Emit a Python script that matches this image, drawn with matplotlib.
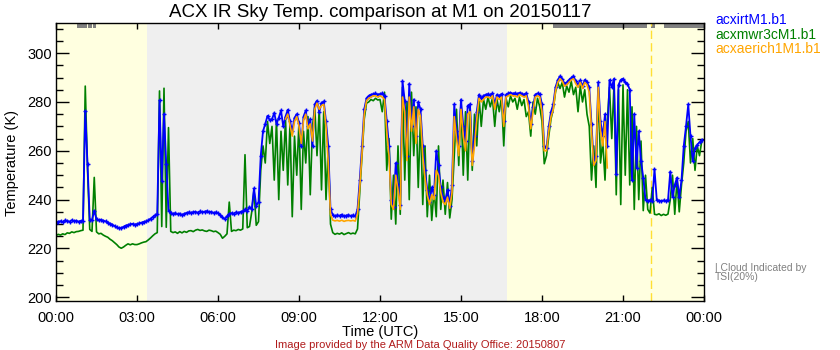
import numpy as np
import matplotlib
matplotlib.use("Agg")
import matplotlib.pyplot as plt
from matplotlib.ticker import MultipleLocator, FuncFormatter

plt.rcParams['font.family'] = ['Liberation Sans', 'DejaVu Sans']

# ---- data: sky brightness temperature (K), one sample every 5 minutes ----
STEP_H = 5.0 / 60.0

# acxirtM1.b1 (IR thermometer), 00:00 .. 23:55
irt_K = [
    230.6, 231.0, 231.2, 230.8, 231.5, 231.3, 231.0, 231.6, 231.2, 231.4, 231.0, 231.3,
    231.2, 276.3, 254.7, 231.8, 231.6, 235.5, 231.9, 231.5, 231.8, 231.4, 231.1, 230.6,
    230.2, 229.8, 229.2, 228.6, 228.3, 228.4, 228.9, 229.4, 229.6, 229.9, 230.1, 229.8,
    230.0, 230.3, 230.6, 230.9, 231.1, 231.5, 232.2, 232.9, 233.6, 234.0, 280.7, 247.8,
    275.0, 254.7, 235.5, 234.6, 234.2, 234.5, 234.0, 234.3, 233.7, 234.2, 234.6, 234.8,
    234.6, 234.9, 235.0, 234.7, 235.2, 234.8, 235.1, 235.3, 234.9, 235.0, 234.6, 234.8,
    234.5, 233.8, 232.8, 232.0, 233.2, 234.2, 234.5, 234.3, 234.8, 234.6, 235.0, 235.2,
    236.0, 235.4, 237.0, 236.0, 244.6, 237.5, 239.0, 258.0, 268.0, 271.0, 274.3, 272.5,
    273.0, 275.5, 271.0, 273.5, 276.5, 270.0, 274.0, 276.8, 272.0, 268.0, 273.5, 275.0,
    271.5, 262.0, 274.0, 276.5, 270.0, 273.0, 262.0, 279.0, 280.5, 276.0, 279.5, 280.2,
    272.0, 262.0, 236.0, 233.8, 233.2, 233.6, 233.4, 233.9, 233.1, 233.5, 233.7, 233.3,
    233.6, 233.2, 236.0, 248.0, 262.0, 277.0, 281.5, 282.5, 283.0, 283.2, 283.5, 283.0,
    283.2, 283.5, 282.5, 272.0, 262.0, 240.0, 237.0, 255.0, 246.0, 238.0, 288.5, 280.5,
    258.0, 287.5, 270.0, 281.0, 266.0, 280.0, 277.0, 262.0, 252.0, 244.0, 239.0, 245.0,
    242.0, 260.0, 254.0, 245.0, 241.0, 239.5, 244.0, 237.5, 246.0, 279.0, 268.0, 262.0,
    281.0, 270.0, 264.0, 278.5, 279.0, 256.0, 266.0, 276.0, 283.0, 281.5, 282.5, 283.0,
    283.2, 282.8, 283.5, 279.0, 283.0, 282.5, 283.3, 272.0, 283.0, 283.5, 283.8, 283.4,
    283.6, 283.2, 283.8, 283.4, 283.0, 283.6, 280.0, 271.0, 278.0, 283.0, 283.5, 283.2,
    279.0, 262.0, 261.0, 270.0, 276.0, 279.0, 286.0, 289.0, 290.5, 289.5, 287.5, 288.0,
    289.0, 289.8, 290.6, 288.5, 287.0, 288.8, 286.5, 289.0, 288.0, 286.0, 271.0, 255.0,
    258.0, 288.0, 272.0, 266.0, 275.0, 262.0, 289.0, 286.0, 289.5, 250.5, 287.0, 289.0,
    289.5, 288.0, 287.5, 285.0, 248.0, 275.0, 253.0, 268.0, 256.0, 249.0, 240.0, 239.5,
    239.8, 239.5, 252.5, 240.0, 239.6, 239.4, 239.7, 239.5, 239.8, 251.5, 241.0, 246.0,
    249.0, 241.0, 248.0, 262.0, 270.0, 279.0, 266.0, 256.0, 261.0, 262.5, 263.5, 264.5,
]

# acxmwr3cM1.b1 (microwave radiometer IR channel), 00:00 .. 23:55
mwr_K = [
    225.3, 225.8, 225.5, 226.0, 225.7, 226.4, 226.2, 226.8, 226.5, 226.9, 227.0, 227.3,
    227.5, 286.5, 252.6, 227.8, 227.0, 249.1, 226.8, 226.0, 226.2, 225.5, 225.0, 224.6,
    223.8, 223.2, 222.4, 221.6, 220.6, 220.1, 220.6, 221.3, 221.9, 221.5, 221.9, 221.6,
    221.6, 221.9, 222.3, 222.6, 222.8, 223.5, 224.3, 225.2, 226.0, 226.5, 284.5, 229.0,
    285.6, 228.7, 269.5, 227.0, 226.5, 226.8, 226.2, 226.9, 226.4, 227.0, 226.6, 227.2,
    227.3, 226.9, 227.5, 227.8, 227.4, 227.6, 227.2, 227.0, 227.5, 227.3, 226.9, 227.1,
    226.5, 225.8, 224.2, 225.0, 226.0, 239.0, 227.0, 227.5, 227.3, 227.8, 227.5, 228.0,
    258.4, 228.5, 229.0, 235.0, 244.0, 229.5, 231.0, 252.0, 262.0, 255.0, 272.0, 263.0,
    270.0, 248.0, 272.5, 240.0, 268.0, 252.0, 273.0, 246.0, 271.0, 233.0, 266.0, 250.0,
    272.0, 236.0, 268.0, 255.0, 274.0, 242.0, 270.0, 278.0, 258.0, 277.5, 244.0, 276.0,
    240.0, 262.0, 230.0, 226.5, 225.8, 226.2, 225.9, 226.4, 225.7, 226.1, 226.5, 226.0,
    226.3, 226.0, 228.0, 243.0, 258.0, 273.0, 279.5, 280.0, 281.0, 280.5, 281.5, 280.8,
    281.0, 276.0, 284.0, 252.0, 265.0, 232.0, 250.0, 230.0, 262.0, 234.0, 286.0, 248.0,
    280.0, 240.0, 284.0, 258.0, 278.0, 245.0, 274.0, 238.0, 262.0, 233.0, 250.0, 231.5,
    244.0, 233.0, 262.0, 236.0, 248.0, 234.0, 247.0, 232.5, 240.0, 258.0, 277.0, 254.0,
    280.0, 250.0, 276.0, 248.0, 279.0, 252.0, 275.0, 262.0, 282.0, 270.0, 281.0, 277.0,
    282.0, 278.0, 281.5, 270.0, 281.0, 276.0, 282.0, 262.0, 281.5, 278.0, 282.5, 280.0,
    281.5, 277.0, 282.0, 278.5, 281.0, 274.0, 276.0, 266.0, 280.0, 275.0, 281.5, 278.0,
    272.0, 254.7, 258.0, 266.0, 273.0, 277.0, 284.0, 288.0, 285.5, 288.0, 282.0, 286.5,
    284.0, 288.5, 283.0, 286.0, 276.0, 286.5, 280.0, 285.0, 275.0, 270.0, 248.0, 262.0,
    245.0, 286.0, 255.0, 264.0, 248.0, 272.0, 286.0, 265.0, 287.0, 242.0, 285.0, 238.0,
    287.0, 250.0, 285.0, 246.0, 278.0, 236.0, 270.0, 240.0, 264.0, 235.5, 250.0, 236.0,
    234.5, 245.0, 234.0, 233.8, 234.2, 233.5, 234.0, 233.6, 234.1, 240.0, 250.0, 234.0,
    248.0, 235.0, 246.0, 255.0, 268.0, 272.0, 255.0, 265.0, 252.0, 262.0, 258.0, 264.0,
]

# acxaerich1M1.b1 (AERI channel 1), 08:30 .. 20:25
AERI_START_H = 8.5
aeri_K = [
    273.0, 275.0, 270.5, 266.0, 272.0, 274.0,
    270.0, 263.0, 272.5, 275.0, 269.0, 271.0, 264.0, 277.0, 279.5, 277.0, 278.5, 279.0,
    270.0, 255.0, 234.0, 231.6, 231.3, 231.5, 231.2, 231.6, 231.1, 231.4, 231.5, 231.3,
    231.5, 231.2, 234.0, 245.0, 259.0, 275.0, 280.5, 281.5, 282.0, 282.5, 282.5, 282.0,
    282.5, 282.0, 281.0, 268.0, 258.0, 238.0, 236.0, 250.0, 244.0, 236.0, 282.0, 276.0,
    256.0, 282.0, 268.0, 278.0, 263.0, 277.0, 274.0, 258.0, 249.0, 242.0, 238.0, 242.0,
    240.0, 252.0, 250.0, 243.0, 239.0, 238.0, 241.0, 236.5, 243.0, 274.0, 265.0, 258.0,
    277.0, 266.0, 260.0, 275.0, 276.0, 254.0, 262.0, 273.0, 281.5, 280.0, 281.0, 282.0,
    282.0, 281.5, 282.5, 277.0, 282.0, 281.0, 282.0, 270.0, 282.0, 282.5, 283.0, 282.5,
    282.5, 282.0, 283.0, 282.5, 282.0, 282.5, 278.0, 269.0, 276.0, 282.0, 282.5, 282.0,
    276.0, 260.0, 260.0, 268.0, 274.0, 277.0, 284.5, 288.0, 289.5, 288.5, 286.5, 287.0,
    288.0, 289.0, 289.5, 287.5, 286.0, 288.0, 285.5, 288.0, 287.0, 284.0, 268.0, 254.0,
    256.0, 286.0, 268.0, 262.0, 272.0, 253.0,
]

# daylight window (UTC hours) and TSI cloud flags
SUNRISE_H = 3.37
SUNSET_H = 16.69
tsi_cloud_start_h = [0.79, 1.20, 1.38, 18.42, 22.04, 22.53]
tsi_cloud_end_h = [1.15, 1.32, 1.47, 21.88, 22.19, 24.00]
DASHED_MARK_H = 22.04

series_names = ['acxirtM1.b1', 'acxmwr3cM1.b1', 'acxaerich1M1.b1']
series_colors = ['#0000FF', '#008000', '#FFA500']

t_irt = np.arange(len(irt_K)) * STEP_H
t_mwr = np.arange(len(mwr_K)) * STEP_H
t_aeri = AERI_START_H + np.arange(len(aeri_K)) * STEP_H

# ---- figure ----
W, H = 840, 350
fig = plt.figure(figsize=(W / 100, H / 100), dpi=100)
ax = fig.add_axes([56 / W, 1 - 301 / H, 648 / W, 277.7 / H])

Y0, Y1 = 198.5, 312.2
ax.set_xlim(0, 24)
ax.set_ylim(Y0, Y1)

night = '#FFFFE0'
day = '#EFEFEF'
ax.axvspan(0, SUNRISE_H, color=night, lw=0, zorder=0)
ax.axvspan(SUNRISE_H, SUNSET_H, color=day, lw=0, zorder=0)
ax.axvspan(SUNSET_H, 24, color=night, lw=0, zorder=0)

ax.broken_barh([(s, e - s) for s, e in zip(tsi_cloud_start_h, tsi_cloud_end_h)],
               (Y1 - 1.8, 1.8), facecolors='#808080', lw=0, zorder=1)
ax.axvline(DASHED_MARK_H, color='#FFE033', lw=1.0, dashes=(6, 3), zorder=1)

ax.plot(t_mwr, mwr_K, color=series_colors[1], lw=1.2, zorder=2)
ax.plot(t_irt, irt_K, color=series_colors[0], lw=1.3, marker='+', ms=3.5,
        mew=1.0, zorder=3)
ax.plot(t_aeri, aeri_K, color=series_colors[2], lw=1.2, zorder=4)

# ---- axes styling ----
ax.xaxis.set_major_locator(MultipleLocator(3))
ax.xaxis.set_major_formatter(FuncFormatter(lambda h, _: f"{int(round(h)) % 24:02d}:00"))
ax.yaxis.set_major_locator(MultipleLocator(20))
ax.yaxis.set_minor_locator(MultipleLocator(5))
ax.tick_params(axis='x', which='major', direction='in', top=True, bottom=True,
               length=4.5, width=1, pad=7, labelsize=10.5)
ax.tick_params(axis='y', which='major', direction='in', left=True, right=True,
               length=9.5, width=1, pad=3, labelsize=10.5)
ax.tick_params(axis='y', which='minor', direction='in', left=True, right=True,
               length=4.8, width=1)
for sp in ax.spines.values():
    sp.set_linewidth(1.0)
    sp.set_zorder(5)

fig.text(380 / W, 1 - 17 / H, 'ACX IR Sky Temp. comparison at M1 on 20150117',
         ha='center', va='baseline', fontsize=13.5)
fig.text(380 / W, 1 - 336 / H, 'Time (UTC)', ha='center', va='baseline',
         fontsize=10.5)
fig.text(12 / W, 1 - 163.5 / H, 'Temperature (K)', rotation=90,
         ha='center', va='center', fontsize=10.5)

for name, col, yb in zip(series_names, series_colors, [24.3, 38.8, 53.3]):
    fig.text(715 / W, 1 - yb / H, name, color=col, ha='left', va='baseline',
             fontsize=10)

fig.text(715 / W, 1 - 271 / H, '| Cloud Indicated by', color='#808080',
         ha='left', va='baseline', fontsize=7.5)
fig.text(715 / W, 1 - 279.5 / H, 'TSI(20%)', color='#808080',
         ha='left', va='baseline', fontsize=7.5)

fig.text(420 / W, 1 - 348 / H,
         'Image provided by the ARM Data Quality Office: 20150807',
         color='#B01A1A', ha='center', va='baseline', fontsize=8)

fig.savefig('out.png', dpi=100)
